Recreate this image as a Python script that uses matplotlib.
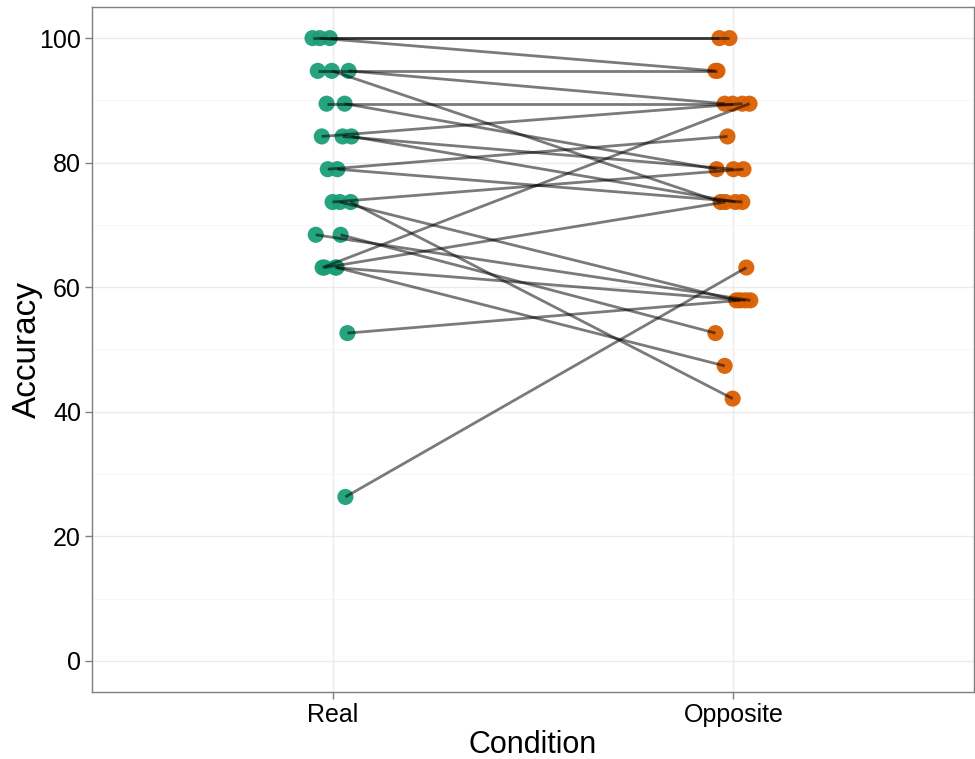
import matplotlib
matplotlib.use("Agg")
import matplotlib.pyplot as plt
import numpy as np

plt.rcParams['font.family'] = ['Liberation Sans', 'DejaVu Sans']

# Conditions (categories)
conditions = ["Real", "Opposite"]

# Paired accuracy values per participant (Real -> Opposite)
real_acc = [100.0, 100.0, 100.0,
            94.74, 94.74, 94.74,
            89.47, 89.47,
            84.21, 84.21, 84.21,
            78.95, 78.95,
            73.68, 73.68, 73.68,
            68.42, 68.42,
            63.16, 63.16, 63.16, 63.16,
            52.63,
            26.32]
opp_acc = [100.0, 100.0, 94.74,
           94.74, 89.47, 73.68,
           89.47, 78.95,
           89.47, 78.95, 73.68,
           84.21, 73.68,
           78.95, 57.89, 42.11,
           57.89, 52.63,
           89.47, 73.68, 57.89, 47.37,
           57.89,
           63.16]
# Horizontal jitter (in category units)
real_jit = [-0.050, -0.007, -0.032,
            -0.037, 0.040, -0.002,
            -0.015, 0.030,
            -0.027, 0.025, 0.047,
            -0.012, 0.012,
            0.000, 0.018, 0.045,
            -0.042, 0.020,
            -0.025, -0.020, 0.007, 0.010,
            0.037,
            0.032]
opp_jit = [-0.035, -0.010, -0.045,
           -0.040, -0.022, -0.032,
           -0.002, -0.042,
           0.022, 0.000, 0.005,
           -0.015, 0.022,
           0.025, 0.007, -0.002,
           0.042, -0.045,
           0.040, -0.020, 0.030, -0.022,
           0.017,
           0.032]

fig = plt.figure(figsize=(9.75, 7.59), dpi=100)
ax = fig.add_axes([0.0944, 0.0883, 0.9046, 0.9025])

green = "#1B9E77"
orange = "#D95F02"

xr = 1 + np.array(real_jit)
xo = 2 + np.array(opp_jit)

ax.scatter(xr, real_acc, s=135, color=green, alpha=0.95, edgecolors='none', zorder=3)
ax.scatter(xo, opp_acc, s=135, color=orange, alpha=0.95, edgecolors='none', zorder=3)
for i in range(len(real_acc)):
    ax.plot([xr[i], xo[i]], [real_acc[i], opp_acc[i]], color='black', alpha=0.52,
            lw=2.0, solid_capstyle='butt', zorder=4)

ax.set_xlim(0.4, 2.6)
ax.set_ylim(-5, 105)
ax.set_xticks([1, 2])
ax.set_xticklabels(conditions)
ax.set_yticks([0, 20, 40, 60, 80, 100])
ax.set_yticks([10, 30, 50, 70, 90], minor=True)
ax.tick_params(axis='x', which='minor', bottom=False)
ax.tick_params(axis='both', which='major', labelsize=18, colors='#7F7F7F',
               labelcolor='black', length=5, width=1, pad=3)
ax.tick_params(axis='y', which='minor', length=0)

ax.grid(True, which='major', color='#EBEBEB', lw=1.0)
ax.grid(True, which='minor', axis='y', color='#F5F5F5', lw=0.6)
ax.set_axisbelow(True)
for sp in ax.spines.values():
    sp.set_color('#7F7F7F')
    sp.set_linewidth(1.0)

ax.set_xlabel("Condition", fontsize=22, labelpad=2)
ax.set_ylabel("Accuracy", fontsize=24)
ax.yaxis.set_label_coords(-0.056, 0.5)

fig.savefig("out.png", dpi=100)
